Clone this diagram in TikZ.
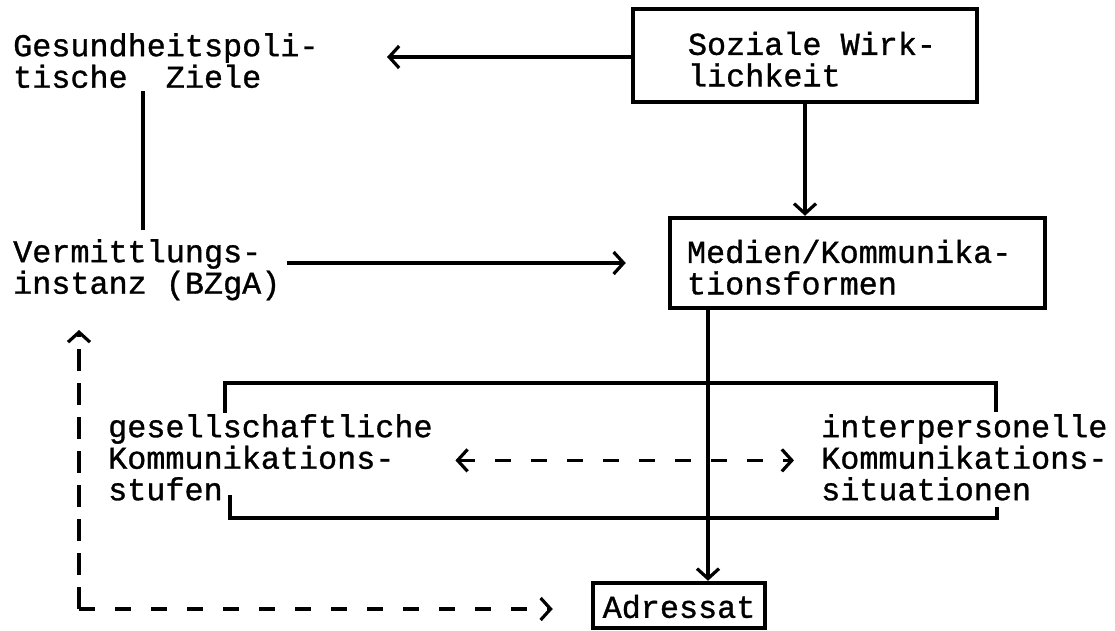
\documentclass[tikz,border=0pt]{standalone}
\usepackage{fontspec}
\setmainfont[UprightFeatures={FakeBold=1}]{Liberation Mono}
\usetikzlibrary{arrows.meta}
\tikzset{
  tw/.style={font=\fontsize{31.8pt}{31.5pt}\selectfont, align=left, inner sep=0pt},
  boxn/.style={tw, draw, line width=4.5pt},
  conn/.style={line width=3.2pt},
  brk/.style={line width=3.2pt},
  vdash/.style={conn, dash pattern=on 22pt off 12pt},
  hdash/.style={conn, dash pattern=on 16pt off 20pt},
  >={Straight Barb[length=10pt,width=22pt]}
}
\begin{document}
\begin{tikzpicture}[x=1pt,y=-1pt]
\fill[white] (0,0) rectangle (1115,630);
\useasboundingbox (0,0) rectangle (1115,630);
% text blocks
\node[tw, anchor=north west] (ges) at (13,31) {\rule{0pt}{25pt}Gesundheitspoli-\\tische\ \ Ziele};
\node[tw, anchor=north west] (ver) at (13,237) {\rule{0pt}{25pt}Vermittlungs-\\instanz (BZgA)};
\node[tw, anchor=north west] (gk) at (108,412) {\rule{0pt}{25pt}gesellschaftliche\\Kommunikations-\\stufen};
\node[tw, anchor=north west] (ip) at (821,412) {\rule{0pt}{25pt}interpersonelle\\Kommunikations-\\situationen};
% boxes
\node[boxn, minimum width=344pt, minimum height=93pt] (soz) at (805,55.5)
  {\hspace*{14pt}\rule{0pt}{30.5pt}Soziale Wirk-\\\hspace*{14pt}lichkeit};
\node[boxn, minimum width=375pt, minimum height=90pt] (med) at (857.5,263)
  {\rule{0pt}{31.5pt}Medien/Kommunika-\hspace*{16.6pt}\\tionsformen};
\node[boxn, minimum width=172pt, minimum height=45pt] (adr) at (679,605.5)
  {\rule{0pt}{25pt}Adressat};
% helper coordinates
\coordinate (gt) at (387,0);
\coordinate (mx) at (708,0);
\path (ges.south west) ++(130,3) coordinate (v1);
\path (ver.north west) ++(130,-7) coordinate (v2);
\path ([xshift=6pt]ver.east) coordinate (vr);
\coordinate (lc) at (79,609);
\coordinate (lt) at (79,330);
\path ([xshift=-38pt,yshift=-3.5pt]adr.west) coordinate (lr);
% connectors
\draw[conn,->] ([yshift=-1.5pt]soz.west) -- ([yshift=-1.5pt]soz.west -| gt);
\draw[conn,->] (soz.south) -- (soz.south |- med.north);
\draw[conn] (v1) -- (v2);
\draw[conn,->] (vr |- med.west) -- ([xshift=-42pt]med.west);
% brackets
\draw[brk] (225,413) -- (225,383) -- (996,383) -- (996,412);
\draw[brk] (230,495) -- (230,518) -- (997,518) -- (997,507);
\draw[conn,->] (med.south -| mx) -- (adr.north -| mx);
% dashed arrows
\draw[hdash,<->] ([xshift=22.6pt,yshift=-4pt]gk.east) -- ([xshift=-27pt,yshift=-4pt]ip.west);
\draw[vdash,->] (lc) -- (lt);
\draw[hdash,->] (lc) -- (lr);
\end{tikzpicture}
\end{document}
